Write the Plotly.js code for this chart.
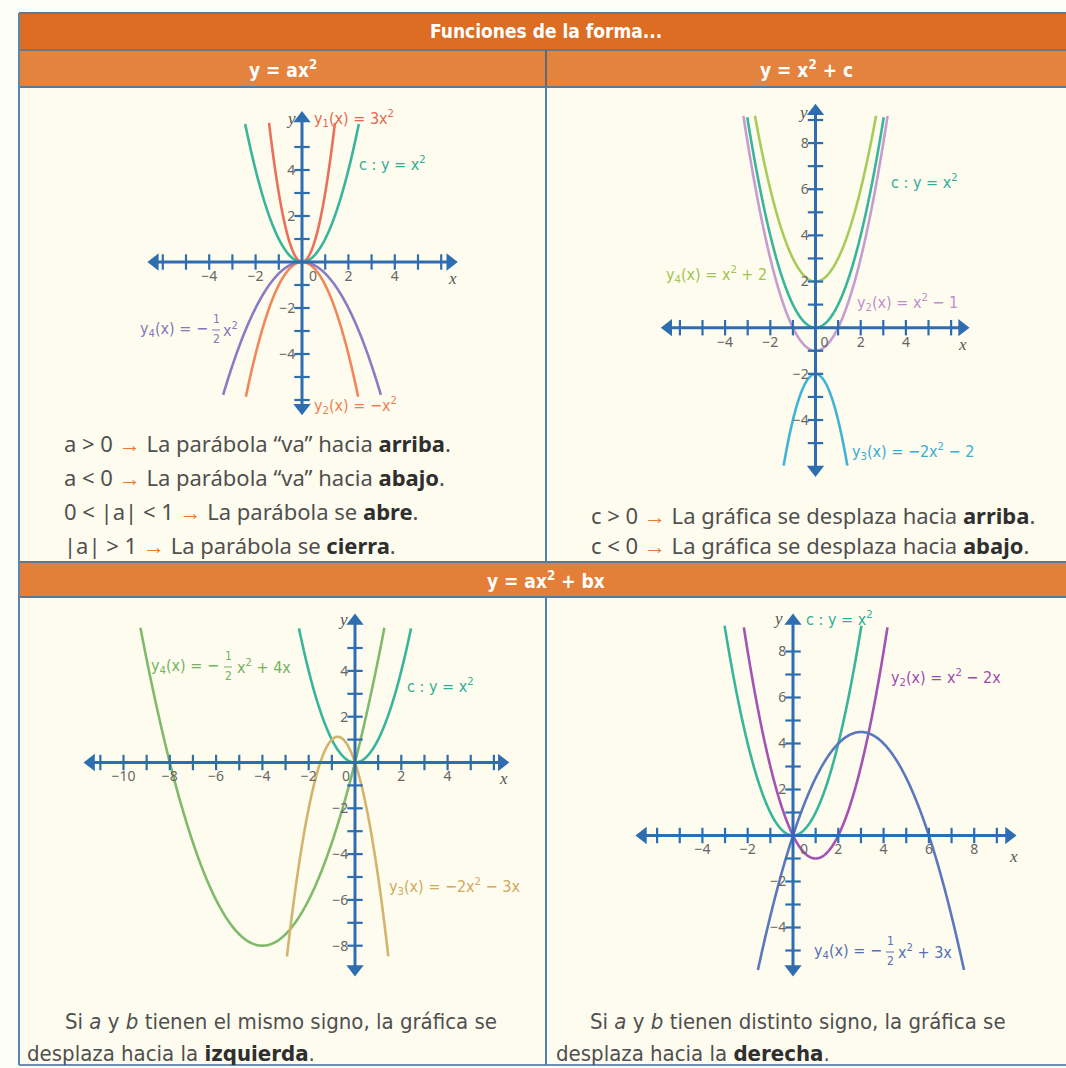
<!DOCTYPE html>
<html>
<head>
<meta charset="utf-8">
<script src="https://cdn.plot.ly/plotly-3.0.1.min.js"></script>
<style>
  html, body { margin: 0; padding: 0; background: #ffffff; }
  #chart { width: 1066px; height: 1068px; }
</style>
</head>
<body>
<div id="chart"></div>
<script>
// ---------- data ----------
// y = a x^2
const axNames  = ['y1', 'c', 'y2', 'y4'];
const axA      = [3, 1, -1, -0.5];
const axB      = [0, 0, 0, 0];
const axC      = [0, 0, 0, 0];
const axFrom   = [-1.42, -2.45, -2.42, -3.4];
const axTo     = [1.42, 2.45, 2.42, 3.4];
const axXTicks = [-4, -2, 0, 2, 4];
const axYTicks = [-4, -2, 2, 4];

// y = x^2 + c
const xcNames  = ['y4', 'c', 'y2', 'y3'];
const xcA      = [1, 1, 1, -2];
const xcB      = [0, 0, 0, 0];
const xcC      = [2, 0, -1, -2];
const xcFrom   = [-2.68, -3.02, -3.19, -1.41];
const xcTo     = [2.68, 3.02, 3.19, 1.41];
const xcXTicks = [-4, -2, 0, 2, 4];
const xcYTicks = [-4, -2, 2, 4, 6, 8];

// y = ax^2 + bx, a and b with the same sign
const sameNames  = ['y4', 'c', 'y3'];
const sameA      = [0.5, 1, -2];
const sameB      = [4, 0, -3];
const sameC      = [0, 0, 0];
const sameFrom   = [-9.27, -2.42, -2.94];
const sameTo     = [1.27, 2.42, 1.44];
const sameXTicks = [-10, -8, -6, -4, -2, 0, 2, 4];
const sameYTicks = [-8, -6, -4, -2, 2, 4];

// y = ax^2 + bx, a and b with opposite signs
const oppNames  = ['c', 'y2', 'y4'];
const oppA      = [1, 1, -0.5];
const oppB      = [0, -2, 3];
const oppC      = [0, 0, 0];
const oppFrom   = [-3.02, -2.17, -1.55];
const oppTo     = [3.02, 4.17, 7.55];
const oppXTicks = [-4, -2, 0, 2, 4, 6, 8];
const oppYTicks = [-4, -2, 2, 4, 6, 8];

// ---------- page geometry (pixels) ----------
const W = 1066, H = 1068;
const fx = p => p / W;       // pixel column -> paper x
const fy = p => 1 - p / H;   // pixel row -> paper y

const COL = {
  teal: '#38b59c', red: '#e9705a', orange: '#f0885a', purple: '#8a7cc4',
  lime: '#a8cc5a', lilac: '#c79cd2', cyan: '#3fb3da', green: '#80ba6c',
  tan: '#d3b46c', magenta: '#a552b5', slate: '#5b77be',
  axis: '#2d6db0', text: '#505050', dark: '#2f2f2f', arrow: '#ea7a2e'
};
const LABEL_FONT = '"Liberation Sans Narrow", "DejaVu Sans Condensed", "Roboto", sans-serif';
const BODY_FONT = '"Noto Sans", "Open Sans", sans-serif';
const NUM_FONT = '"Noto Sans", sans-serif';

const NB = '\u00a0';
const panels = [
  { names: axNames, A: axA, B: axB, C: axC, from: axFrom, to: axTo, xt: axXTicks, yt: axYTicks,
    colors: [COL.red, COL.teal, COL.orange, COL.purple], zero: NB.repeat(6) + '0',
    ox: 302, oy: 262, sx: 23.2, sy: 23, box: [130, 95, 545, 430], xl: [-6.6, 6.65], yl: [-6.6, 6.5] },
  { names: xcNames, A: xcA, B: xcB, C: xcC, from: xcFrom, to: xcTo, xt: xcXTicks, yt: xcYTicks,
    colors: [COL.lime, COL.teal, COL.lilac, COL.cyan], zero: NB.repeat(5) + '0',
    ox: 815.5, oy: 327.7, sx: 22.6, sy: 23.08, box: [640, 95, 1040, 485], xl: [-6.78, 6.75], yl: [-6.4, 9.64] },
  { names: sameNames, A: sameA, B: sameB, C: sameC, from: sameFrom, to: sameTo, xt: sameXTicks, yt: sameYTicks,
    colors: [COL.green, COL.teal, COL.tan], zero: '0' + NB.repeat(5),
    ox: 355, oy: 762.5, sx: 23.15, sy: 22.9, box: [60, 605, 545, 990], xl: [-11.66, 6.6], yl: [-9.28, 6.44] },
  { names: oppNames, A: oppA, B: oppB, C: oppC, from: oppFrom, to: oppTo, xt: oppXTicks, yt: oppYTicks,
    colors: [COL.teal, COL.magenta, COL.slate], zero: NB.repeat(6) + '0',
    ox: 793, oy: 835.5, sx: 22.65, sy: 23, box: [600, 605, 1062, 990], xl: [-6.89, 9.8], yl: [-6.07, 9.59] }
];

const fmt = v => (v < 0 ? '\u2212' + Math.abs(v) : String(v));

const traces = [];
const layout = {
  width: W, height: H,
  margin: { l: 0, r: 0, t: 0, b: 0 },
  paper_bgcolor: '#fdfdf8',
  plot_bgcolor: 'rgba(0,0,0,0)',
  showlegend: false,
  shapes: [],
  annotations: []
};

panels.forEach((p, i) => {
  const n = i === 0 ? '' : String(i + 1);
  const xa = 'x' + n, ya = 'y' + n;
  const [L, T, R, B] = p.box;
  layout['xaxis' + n] = {
    domain: [fx(L), fx(R)],
    range: [(L - p.ox) / p.sx, (R - p.ox) / p.sx],
    anchor: 'free', position: fy(p.oy),
    showgrid: false, zeroline: false, showline: false,
    tickmode: 'array', tickvals: p.xt,
    ticktext: p.xt.map(v => (v === 0 ? p.zero : fmt(v))),
    ticks: 'outside', ticklen: 1, tickcolor: 'rgba(0,0,0,0)',
    tickfont: { family: NUM_FONT, size: 14, color: '#666' },
    fixedrange: true
  };
  layout['yaxis' + n] = {
    domain: [fy(B), fy(T)],
    range: [(p.oy - B) / p.sy, (p.oy - T) / p.sy],
    anchor: 'free', position: fx(p.ox),
    showgrid: false, zeroline: false, showline: false,
    tickmode: 'array', tickvals: p.yt, ticktext: p.yt.map(fmt),
    ticks: 'outside', ticklen: 4, tickcolor: 'rgba(0,0,0,0)',
    tickfont: { family: NUM_FONT, size: 14, color: '#666' },
    fixedrange: true
  };

  // parabolas y = a x^2 + b x + c
  p.names.forEach((name, k) => {
    const xs = [], ys = [];
    const steps = 200;
    for (let s = 0; s <= steps; s++) {
      const x = p.from[k] + (p.to[k] - p.from[k]) * s / steps;
      xs.push(x);
      ys.push(p.A[k] * x * x + p.B[k] * x + p.C[k]);
    }
    traces.push({ x: xs, y: ys, name, mode: 'lines', xaxis: xa, yaxis: ya,
      line: { color: p.colors[k], width: 2.6, shape: 'spline' }, hoverinfo: 'skip', cliponaxis: false });
  });

  // coordinate axes through the origin, with unit ticks and arrowheads
  const ex = 6 / p.sx, ey = 6 / p.sy;
  const axisLine = { color: COL.axis, width: 3 };
  traces.push({ x: [p.xl[0] + ex, p.xl[1] - ex], y: [0, 0], mode: 'lines', line: axisLine,
    xaxis: xa, yaxis: ya, hoverinfo: 'skip', cliponaxis: false });
  traces.push({ x: [0, 0], y: [p.yl[0] + ey, p.yl[1] - ey], mode: 'lines', line: axisLine,
    xaxis: xa, yaxis: ya, hoverinfo: 'skip', cliponaxis: false });
  const tx = [], ty = [];
  for (let k = Math.ceil(p.xl[0] + 0.6); k <= Math.floor(p.xl[1] - 0.6); k++) if (k) tx.push(k);
  for (let k = Math.ceil(p.yl[0] + 0.6); k <= Math.floor(p.yl[1] - 0.6); k++) if (k) ty.push(k);
  traces.push({ x: tx, y: tx.map(() => 0), mode: 'markers', xaxis: xa, yaxis: ya, hoverinfo: 'skip',
    marker: { symbol: 'line-ns', size: 11, line: { color: COL.axis, width: 2.2 } }, cliponaxis: false });
  traces.push({ x: ty.map(() => 0), y: ty, mode: 'markers', xaxis: xa, yaxis: ya, hoverinfo: 'skip',
    marker: { symbol: 'line-ew', size: 11, line: { color: COL.axis, width: 2.2 } }, cliponaxis: false });
  traces.push({ x: [p.xl[0] + ex, p.xl[1] - ex, 0, 0], y: [0, 0, p.yl[0] + ey, p.yl[1] - ey],
    mode: 'markers', xaxis: xa, yaxis: ya, hoverinfo: 'skip', cliponaxis: false,
    marker: { symbol: ['triangle-left', 'triangle-right', 'triangle-down', 'triangle-up'],
      size: 15, color: COL.axis } });
});

// ---------- table frame ----------
const rect = (x0, y0, x1, y1, fill) => ({ type: 'rect', xref: 'paper', yref: 'paper', layer: 'below',
  x0: fx(x0), x1: fx(x1), y0: fy(y1), y1: fy(y0), fillcolor: fill, line: { width: 0 } });
const hline = (x0, x1, y, color, w) => ({ type: 'line', xref: 'paper', yref: 'paper', layer: 'below',
  x0: fx(x0), x1: fx(x1), y0: fy(y), y1: fy(y), line: { color, width: w } });
const vline = (x, y0, y1, color, w) => ({ type: 'line', xref: 'paper', yref: 'paper', layer: 'below',
  x0: fx(x), x1: fx(x), y0: fy(y0), y1: fy(y1), line: { color, width: w } });

layout.shapes.push(
  rect(19, 13, 1066, 50, '#dc6d22'),
  rect(19, 50, 1066, 87, '#e4833d'),
  rect(19, 87, 1066, 562, '#fefcee'),
  rect(19, 562, 1066, 597, '#e37f38'),
  rect(19, 597, 1066, 1065, '#fefcee'),
  hline(19, 1066, 13, '#6a7684', 2),
  hline(19, 1066, 50, '#6a7684', 2),
  hline(19, 1066, 87, '#5f7890', 2),
  hline(19, 1066, 562, '#5f7890', 2),
  hline(19, 1066, 597, '#5f7890', 2),
  hline(19, 1066, 1065, '#6f8eb0', 2),
  vline(19, 13, 1065, '#5a86b2', 2),
  vline(546, 50, 87, '#5c6a7a', 2),
  vline(546, 87, 562, '#4f80b0', 2),
  vline(546, 597, 1065, '#4f80b0', 2)
);

// ---------- text ----------
const ann = (px, py, text, opt = {}) => layout.annotations.push(Object.assign({
  xref: 'paper', yref: 'paper', x: fx(px), y: fy(py), text, showarrow: false,
  xanchor: 'left', yanchor: 'middle',
  font: { family: LABEL_FONT, size: 16, color: COL.text }
}, opt));

// header bands
const headFont = { family: LABEL_FONT, size: 19, color: '#ffffff' };
ann(546, 31, '<b>Funciones de la forma...</b>', { xanchor: 'center', font: headFont });
ann(283, 69, '<b>y = ax<sup>2</sup></b>', { xanchor: 'center', font: headFont });
ann(806, 69, '<b>y = x<sup>2</sup> + c</b>', { xanchor: 'center', font: headFont });
ann(546, 580, '<b>y = ax<sup>2</sup> + bx</b>', { xanchor: 'center', font: headFont });

// curve labels
const lab = (px, py, text, color, xanchor = 'left') =>
  ann(px, py, text, { xanchor, font: { family: LABEL_FONT, size: 16, color } });
const axName = (px, py, text) =>
  ann(px, py, text, { xanchor: 'center', font: { family: '"Liberation Serif", serif', size: 17, color: '#555' } });
// stacked 1/2 fraction label: prefix, fraction, suffix
const fracLab = (xr, fxp, xl, py, pre, post, color) => {
  lab(xr, py, pre, color, 'right');
  ann(fxp, py - 10, '1', { xanchor: 'center', font: { family: LABEL_FONT, size: 12, color } });
  ann(fxp, py + 10, '2', { xanchor: 'center', font: { family: LABEL_FONT, size: 12, color } });
  layout.shapes.push({ type: 'line', xref: 'paper', yref: 'paper', x0: fx(fxp - 4), x1: fx(fxp + 4),
    y0: fy(py + 1), y1: fy(py + 1), line: { color, width: 1 } });
  lab(xl, py, post, color, 'left');
};

// y = ax^2
axName(291, 118, '<i>y</i>'); axName(452, 278, '<i>x</i>');
lab(312, 118, 'y<sub>1</sub>(x) = 3x<sup>2</sup>', '#e5674f');
lab(357, 164, 'c : y = x<sup>2</sup>', '#2fae96');
lab(312, 405, 'y<sub>2</sub>(x) = −x<sup>2</sup>', '#ee7f50');
fracLab(210, 216, 221, 329, 'y<sub>4</sub>(x) = −', 'x<sup>2</sup>', '#8478c0');

// y = x^2 + c
axName(803, 112, '<i>y</i>'); axName(962, 344, '<i>x</i>');
lab(889, 181, 'c : y = x<sup>2</sup>', '#2fae96');
lab(664, 274, 'y<sub>4</sub>(x) = x<sup>2</sup> + 2', '#9cc44e');
lab(855, 302, 'y<sub>2</sub>(x) = x<sup>2</sup> − 1', '#bd8fcb');
lab(850, 451, 'y<sub>3</sub>(x) = −2x<sup>2</sup> − 2', '#36acd6');

// y = ax^2 + bx, same sign
axName(343, 619, '<i>y</i>'); axName(503, 778, '<i>x</i>');
fracLab(221, 228, 235, 666, 'y<sub>4</sub>(x) = −', 'x<sup>2</sup> + 4x', '#74b260');
lab(405, 685, 'c : y = x<sup>2</sup>', '#2fae96');
lab(387, 886, 'y<sub>3</sub>(x) = −2x<sup>2</sup> − 3x', '#ccaa5e');

// y = ax^2 + bx, opposite signs
axName(778, 618, '<i>y</i>'); axName(1013, 856, '<i>x</i>');
lab(804, 618, 'c : y = x<sup>2</sup>', '#2fae96');
lab(889, 677, 'y<sub>2</sub>(x) = x<sup>2</sup> − 2x', '#9d4aae');
fracLab(884, 890, 896, 951, 'y<sub>4</sub>(x) = −', 'x<sup>2</sup> + 3x', '#5570b8');

// explanatory sentences
const AR = `<span style="color:${COL.arrow}">→</span>`;
const bold = w => `<b><span style="color:${COL.dark}">${w}</span></b>`;
const body = { family: BODY_FONT, size: 22, color: COL.text };
ann(62, 443, `a > 0 ${AR} La parábola “va” hacia ${bold('arriba')}.`, { font: body });
ann(62, 477, `a < 0 ${AR} La parábola “va” hacia ${bold('abajo')}.`, { font: body });
ann(62, 511, `0 < |a| < 1 ${AR} La parábola se ${bold('abre')}.`, { font: body });
ann(62, 545, `|a| > 1 ${AR} La parábola se ${bold('cierra')}.`, { font: body });
ann(589, 515, `c > 0 ${AR} La gráfica se desplaza hacia ${bold('arriba')}.`, { font: body });
ann(589, 545, `c < 0 ${AR} La gráfica se desplaza hacia ${bold('abajo')}.`, { font: body });

const body2 = { family: LABEL_FONT, size: 22, color: COL.text };
ann(63, 1021, 'Si <i>a</i> y <i>b</i> tienen el mismo signo, la gráfica se', { font: body2 });
ann(25, 1053, `desplaza hacia la ${bold('izquierda')}.`, { font: body2 });
ann(588, 1021, 'Si <i>a</i> y <i>b</i> tienen distinto signo, la gráfica se', { font: body2 });
ann(554, 1053, `desplaza hacia la ${bold('derecha')}.`, { font: body2 });

Plotly.newPlot('chart', traces, layout, { displayModeBar: false, staticPlot: true });
</script>
</body>
</html>
